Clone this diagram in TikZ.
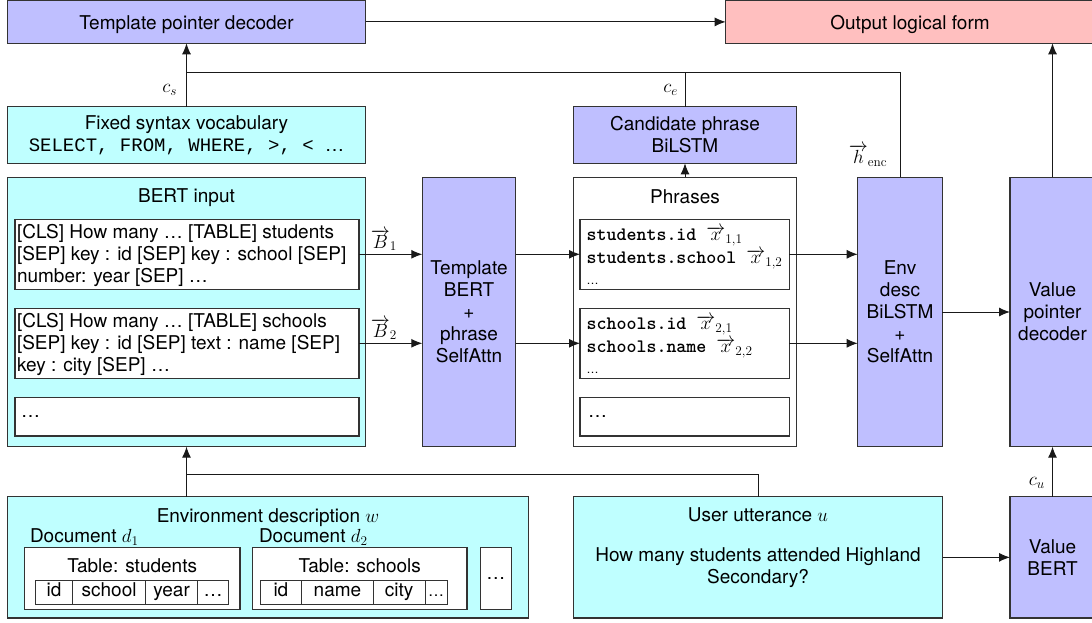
\RequirePackage{fix-cm}
\documentclass[tikz,border=0pt]{standalone}
\usepackage[no-math]{fontspec}
\setmainfont{TeX Gyre Heros}
\newfontfamily\cour{Liberation Mono}
\usetikzlibrary{arrows.meta,calc}
\definecolor{pur}{RGB}{191,191,255}
\definecolor{cya}{RGB}{191,255,255}
\definecolor{pnk}{RGB}{255,191,191}
\begin{document}
\begin{tikzpicture}[x=1pt,y=-1pt,
 every node/.style={font=\fontsize{19}{22}\selectfont, inner sep=0pt, outer sep=0pt},
 box/.style={draw=black!80, line width=1.1pt, anchor=north west, align=center},
 pbox/.style={box, fill=pur},
 cbox/.style={box, fill=cya},
 wbox/.style={box, fill=white},
 lowtext/.style={text height=17pt, text depth=2.4pt},
 cell/.style={draw=black!80, line width=0.9pt, anchor=north west, minimum height=24.3pt, text height=13pt, text depth=4pt},
 conn/.style={line width=1pt, black!90},
 arr/.style={conn, -{Latex[length=11pt,width=9pt]}},
 ptt/.style={anchor=base west}
]
\useasboundingbox (0,0) rectangle (1092,623);
% top row
\node[pbox, lowtext, minimum width=358pt, minimum height=42.8pt] (tpd) at (7.5,0.5) {Template pointer decoder};
\node[box, lowtext, fill=pnk, minimum width=368.6pt, minimum height=42.8pt] (olf) at (725.7,0.5) {Output logical form};
\node[cbox, minimum width=358pt, minimum height=56.6pt] (fsv) at (7.5,106.7) {Fixed syntax vocabulary\\{\cour SELECT, FROM, WHERE, >, < }…};
\node[pbox, minimum width=223.4pt, minimum height=56.6pt] (cpb) at (573.3,106.7) {Candidate phrase\\BiLSTM};
% BERT input
\node[cbox, minimum width=358pt, minimum height=269.4pt] (bert) at (7.5,177.3) {};
\node (bertt) at (186.5,197.5) {BERT input};
\node[wbox, minimum width=344pt, minimum height=70pt] (b1) at (15,219.3) {};
\node[wbox, minimum width=344pt, minimum height=70pt] (b2) at (15,308.3) {};
\node[wbox, minimum width=344pt, minimum height=38.3pt] (b3) at (15,397.7) {};
\node[anchor=west, align=left] (b1t) at ([xshift=2pt,yshift=-1pt]b1.west) {[CLS] How many … [TABLE] students\\{}[SEP] key : id [SEP] key : school [SEP]\\number: year [SEP] …};
\node[anchor=west, align=left] (b2t) at ([xshift=2pt,yshift=-1pt]b2.west) {[CLS] How many … [TABLE] schools\\{}[SEP] key : id [SEP] text : name [SEP]\\key : city [SEP] …};
\node[anchor=west] (b3t) at ([xshift=6pt]b3.west) {…};
% template BERT
\node[pbox, minimum width=93.4pt, minimum height=269.4pt] (tb) at (422.3,177.3) {Template\\BERT\\+\\phrase\\SelfAttn};
% phrases
\node[wbox, minimum width=223.4pt, minimum height=269.4pt] (ph) at (573.3,177.3) {};
\node (pht) at (685,197) {Phrases};
\node[wbox, minimum width=209.3pt, minimum height=70pt] (p1) at (580,219.3) {};
\node[wbox, minimum width=209.3pt, minimum height=70pt] (p2) at (580,308.3) {};
\node[wbox, minimum width=209.3pt, minimum height=38.3pt] (p3) at (580,397.7) {};
\node[ptt] (p1a) at (586.7,240.5) {\ttfamily\bfseries students.id $\overrightarrow{x}_{1,1}$};
\node[ptt] (p1b) at (586.7,263.5) {\ttfamily\bfseries students.school $\overrightarrow{x}_{1,2}$};
\node[ptt] (p1c) at (586.7,284) {\fontsize{12}{14}\selectfont …};
\node[ptt] (p2a) at (586.7,329.5) {\ttfamily\bfseries schools.id $\overrightarrow{x}_{2,1}$};
\node[ptt] (p2b) at (586.7,352.5) {\ttfamily\bfseries schools.name $\overrightarrow{x}_{2,2}$};
\node[ptt] (p2c) at (586.7,373) {\fontsize{12}{14}\selectfont …};
\node[anchor=west] (p3t) at ([xshift=8pt]p3.west) {…};
% env desc + value decoder
\node[pbox, minimum width=84.6pt, minimum height=269.4pt] (env) at (857.7,177.3) {Env\\desc\\BiLSTM\\+\\SelfAttn};
\node[pbox, minimum width=85pt, minimum height=269.4pt] (vpd) at (1010,177.3) {Value\\pointer\\decoder};
% bottom row
\node[cbox, minimum width=521.1pt, minimum height=121.3pt] (ed) at (7.5,496.7) {};
\node (edt) at (268,517.3) {Environment description $w$};
\node[anchor=west] (d1l) at (30,536.7) {Document $d_1$};
\node[anchor=west] (d2l) at (259,536.7) {Document $d_2$};
\node[wbox, minimum width=215.7pt, minimum height=62pt] (doc1) at (24.3,547.3) {};
\node (doc1t) at (132.2,566) {Table: students};
\node[cell, minimum width=36.8pt] (c11) at (35.7,580) {id};
\node[cell, minimum width=73.2pt] (c12) at (72.5,580) {school};
\node[cell, minimum width=51.8pt] (c13) at (145.7,580) {year};
\node[cell, minimum width=31.1pt] (c14) at (197.5,580) {…};
\node[wbox, minimum width=214.5pt, minimum height=62pt] (doc2) at (252.5,547.3) {};
\node (doc2t) at (359.8,566) {Table: schools};
\node[cell, minimum width=41.8pt] (c21) at (260,580) {id};
\node[cell, minimum width=71.4pt] (c22) at (301.8,580) {name};
\node[cell, minimum width=51.8pt] (c23) at (373.2,580) {city};
\node[cell, minimum width=22pt] (c24) at (425,580) {\fontsize{16}{18}\selectfont …};
\node[wbox, minimum width=31pt, minimum height=62pt] (doc3) at (480.4,547.3) {…};
\node[cbox, minimum width=369pt, minimum height=121.3pt] (uu) at (573.5,496.7) {};
\node (uut) at (758,515) {User utterance $u$};
\node[align=center] (uub) at (758,567.8) {How many students attended Highland\\Secondary?};
\node[pbox, minimum width=85pt, minimum height=121.3pt] (vb) at (1010,496.7) {Value\\BERT};
% connectors
\coordinate (jt) at (186.5,72.7);
\coordinate (jb) at (186.5,474.3);
\draw[arr] (tpd) -- (olf);
\draw[arr] (fsv) -- (tpd);
\draw[conn] (env.north) |- (jt);
\draw[conn] (cpb.north) -- (cpb.north |- jt);
\draw[arr] (ph) -- (cpb);
\draw[arr] (b1.east) -- (b1.east -| tb.west);
\draw[arr] (b2.east) -- (b2.east -| tb.west);
\draw[arr] (tb.east |- p1.west) -- (p1.west);
\draw[arr] (tb.east |- p2.west) -- (p2.west);
\draw[arr] (p1.east) -- (p1.east -| env.west);
\draw[arr] (p2.east) -- (p2.east -| env.west);
\draw[arr] (env) -- (vpd);
\draw[arr] (vpd.north) -- (vpd.north |- olf.south);
\draw[arr] (vb) -- (vpd);
\draw[arr] (uu) -- (vb);
\draw[arr] (bert.south |- ed.north) -- (bert.south);
\draw[conn] (uu.north) |- (jb);
% labels
\node (cs) at (169.7,90) {$c_s$};
\node (ce) at (670.7,90) {$c_e$};
\node (henc) at (868,155.5) {$\overrightarrow{h}_{\mathrm{enc}}$};
\node (B1) at (384,240) {$\overrightarrow{B}_1$};
\node (B2) at (384,329) {$\overrightarrow{B}_2$};
\node (cu) at (1036.7,482.7) {$c_u$};
\end{tikzpicture}
\end{document}
